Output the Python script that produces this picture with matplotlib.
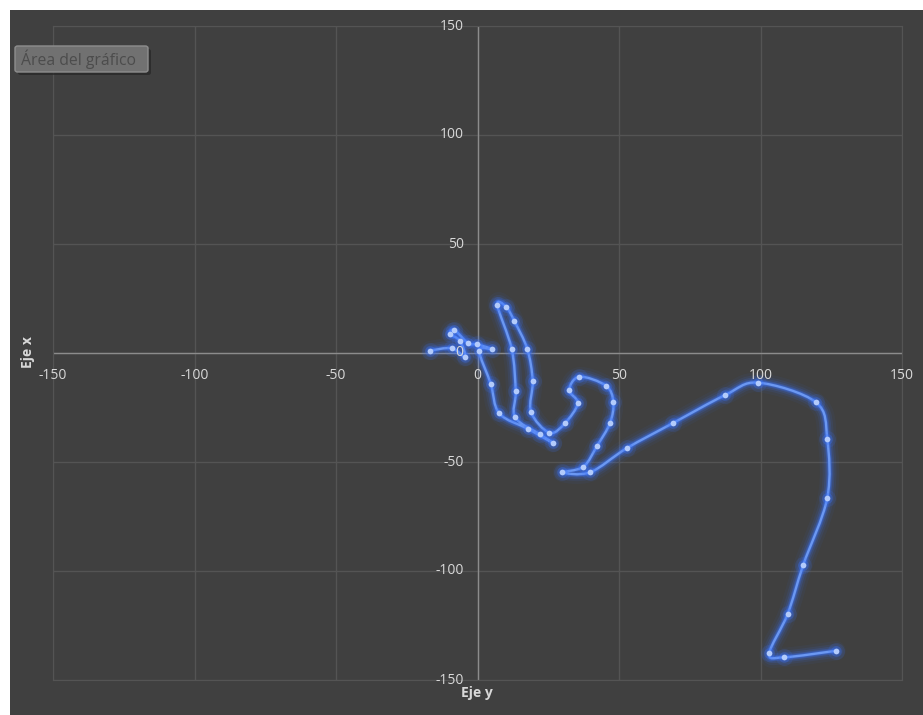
import numpy as np
import matplotlib
matplotlib.use("Agg")
import matplotlib.pyplot as plt
from matplotlib.patches import Rectangle, FancyBboxPatch, PathPatch
from matplotlib.path import Path

# Trajectory samples (horizontal value, vertical value), in drawing order
x_vals = [-16.8, -9.1, -4.4, -6.2, -9.7, -8.2, -3.3, -0.3, 5.0, 0.6,
          4.7, 7.7, 18.0, 26.6, 22.1, 13.3, 13.5, 12.1, 7.0, 10.1,
          13.0, 17.6, 19.5, 18.9, 25.4, 30.9, 35.4, 32.4, 36.0, 45.4,
          48.0, 46.8, 42.3, 37.4, 30.0, 39.8, 52.7, 69.0, 87.5, 99.2,
          119.6, 123.6, 123.6, 115.1, 109.6, 103.1, 108.3, 126.7]
y_vals = [1.1, 2.2, -1.8, 5.6, 8.7, 10.6, 4.4, 4.0, 1.7, 1.1,
          -14.2, -27.7, -34.9, -41.2, -37.3, -29.5, -17.4, 1.8, 22.0, 21.2,
          14.7, 1.8, -12.8, -26.9, -36.6, -32.2, -23.1, -17.0, -10.9, -15.0,
          -22.6, -32.2, -42.5, -52.2, -54.7, -54.7, -43.7, -32.2, -19.3, -13.6,
          -22.6, -39.4, -66.4, -97.2, -119.7, -137.8, -139.6, -136.6]

tick_values = [-150, -100, -50, 0, 50, 100, 150]
tick_labels = ["-150", "-100", "-50", "0", "50", "100", "150"]
horiz_title = "Eje y"
vert_title = "Eje x"
badge_text = "Área del gráfico"

BG = "#404040"
GRID = "#545454"
AXIS = "#8c8c8c"
TXT = "#d9d9d9"
LINE = "#6b98f2"
GLOW = "#3a74ff"
MARK = "#b3cbfb"

plt.rcParams["font.family"] = ["Open Sans", "DejaVu Sans"]

W, H = 923, 715
fig = plt.figure(figsize=(W / 100, H / 100), dpi=100)
fig.patch.set_facecolor("white")
fig.add_artist(Rectangle((10 / W, 0), 1 - 10 / W, (H - 10) / H,
                         transform=fig.transFigure, facecolor=BG,
                         edgecolor="none", zorder=0))

ax = fig.add_axes([53 / W, 35 / H, 849 / W, 654 / H])
ax.set_facecolor(BG)
ax.set_xlim(-150, 150)
ax.set_ylim(-150, 150)
ax.set_xticks(tick_values)
ax.set_yticks(tick_values)
ax.tick_params(length=0, labelbottom=False, labelleft=False)
ax.grid(color=GRID, lw=1)
ax.set_axisbelow(True)
for s in ax.spines.values():
    s.set_color(GRID)
ax.axhline(0, color=AXIS, lw=1, zorder=1)
ax.axvline(0, color=AXIS, lw=1, zorder=1)

# tick labels hang off the crossing axes
for v, lab in zip(tick_values, tick_labels):
    ax.annotate(lab, xy=(v, 0), xycoords="data", xytext=(0, -11),
                textcoords="offset points", ha="center", va="top",
                color=TXT, fontsize=10, annotation_clip=False, zorder=5)
    ax.annotate(lab, xy=(0, v), xycoords="data", xytext=(-10, 0),
                textcoords="offset points", ha="right", va="center",
                color=TXT, fontsize=10, annotation_clip=False, zorder=5)

fig.text(28 / W, 1 - 352 / H, vert_title, rotation=90, ha="center",
         va="center", color=TXT, fontsize=10, fontweight="bold")
fig.text(477 / W, 1 - 693 / H, horiz_title, ha="center", va="center",
         color=TXT, fontsize=10, fontweight="bold")

# smoothed line: Catmull-Rom segments as cubic Beziers in display space
pts = ax.transData.transform(np.column_stack([x_vals, y_vals]))
n = len(pts)
verts = [pts[0]]
codes = [Path.MOVETO]
for i in range(n - 1):
    p0 = pts[i - 1] if i > 0 else pts[i]
    p1 = pts[i]
    p2 = pts[i + 1]
    p3 = pts[i + 2] if i + 2 < n else pts[i + 1]
    c1 = p1 + (p2 - p0) / 6.0
    c2 = p2 - (p3 - p1) / 6.0
    verts += [c1, c2, p2]
    codes += [Path.CURVE4] * 3
verts = ax.transData.inverted().transform(np.array(verts))
curve = Path(verts, codes)

for lw, a in [(14, 0.05), (10, 0.09), (7, 0.15), (4.5, 0.25), (3, 0.35)]:
    ax.add_patch(PathPatch(curve, fill=False, edgecolor=GLOW, lw=lw,
                           alpha=a, capstyle="round", joinstyle="round",
                           zorder=3))
ax.add_patch(PathPatch(curve, fill=False, edgecolor=LINE, lw=1.7, zorder=4))

ax.scatter(x_vals, y_vals, s=150, color=GLOW, alpha=0.14, lw=0, zorder=4)
ax.scatter(x_vals, y_vals, s=60, color=GLOW, alpha=0.28, lw=0, zorder=4)
ax.scatter(x_vals, y_vals, s=17, color=MARK, lw=0, zorder=5)

# chart-area badge in the top-left corner
bx0, by0, bx1, by1 = 15, 46, 148, 72
fig.add_artist(FancyBboxPatch(((bx0 + 3) / W, 1 - (by1 + 3) / H),
                              (bx1 - bx0) / W, (by1 - by0) / H,
                              boxstyle="round,pad=0,rounding_size=0.003",
                              transform=fig.transFigure, facecolor="#262626",
                              edgecolor="none", alpha=0.7, zorder=6))
fig.add_artist(FancyBboxPatch((bx0 / W, 1 - by1 / H),
                              (bx1 - bx0) / W, (by1 - by0) / H,
                              boxstyle="round,pad=0,rounding_size=0.003",
                              transform=fig.transFigure, facecolor="#717171",
                              edgecolor="#8e8e8e", lw=1, zorder=7))
fig.text((bx0 + 6) / W, 1 - (by0 + by1) / 2 / H, badge_text, ha="left",
         va="center", color="#4c4c4c", fontsize=11.3, zorder=8)

fig.savefig("out.png", dpi=100, facecolor=fig.get_facecolor())
